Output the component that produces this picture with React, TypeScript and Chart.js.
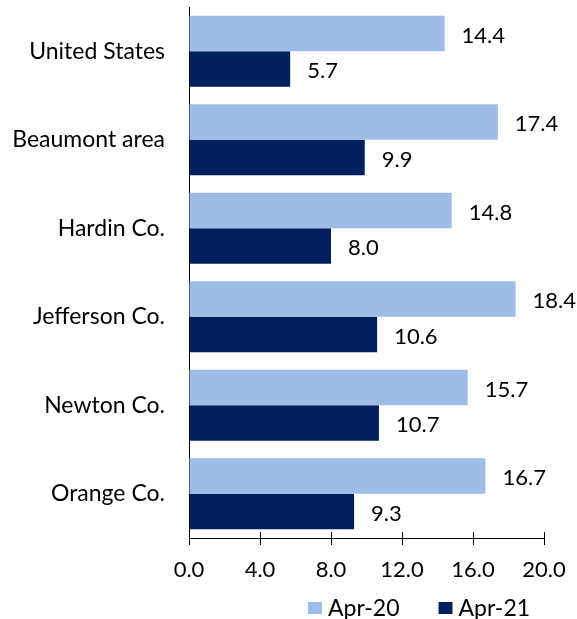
import React, { useEffect, useRef } from "react";
import { Chart, registerables } from "chart.js";

Chart.register(...registerables);

const categories = ["United States", "Beaumont area", "Hardin Co.", "Jefferson Co.", "Newton Co.", "Orange Co."];
const apr20 = [14.4, 17.4, 14.8, 18.4, 15.7, 16.7];
const apr21 = [5.7, 9.9, 8.0, 10.6, 10.7, 9.3];
const seriesNames = ["Apr-20", "Apr-21"];
const seriesColors = ["#9EBCE5", "#002060"];
const xMin = 0;
const xMax = 20;
const xStep = 4;

const FONT = "Lato, 'Noto Sans', sans-serif";
const FS_CAT = 23;
const FS_NUM = 22;
const FS_LEG = 23;

const labelsPlugin = {
  id: "valueLabelsAndLegend",
  afterDatasetsDraw(chart: any) {
    const ctx = chart.ctx;
    ctx.save();
    ctx.font = `${FS_NUM}px ${FONT}`;
    ctx.fillStyle = "#000";
    ctx.textBaseline = "middle";
    ctx.textAlign = "left";
    chart.data.datasets.forEach((ds: any, i: number) => {
      const meta = chart.getDatasetMeta(i);
      meta.data.forEach((el: any, j: number) => {
        ctx.fillText(Number(ds.data[j]).toFixed(1), el.x + 17, el.y + 2);
      });
    });
    // inner half of crossing tick marks
    const xs = chart.scales.x;
    const bottom = chart.chartArea.bottom;
    ctx.strokeStyle = "#000";
    ctx.lineWidth = 1;
    xs.ticks.forEach((t: any) => {
      const px = Math.round(xs.getPixelForValue(t.value)) + 0.5;
      ctx.beginPath();
      ctx.moveTo(px, bottom - 6);
      ctx.lineTo(px, bottom);
      ctx.stroke();
    });
    // legend
    ctx.font = `${FS_LEG}px ${FONT}`;
    const legendY = 608;
    let lx = 308;
    chart.data.datasets.forEach((ds: any) => {
      ctx.fillStyle = ds.backgroundColor;
      ctx.fillRect(lx, legendY - 6, 14, 12);
      ctx.fillStyle = "#000";
      const tx = lx + 20;
      ctx.fillText(ds.label, tx, legendY + 1);
      lx = tx + ctx.measureText(ds.label).width + 39;
    });
    ctx.restore();
  },
};

export default function App() {
  const ref = useRef<HTMLCanvasElement>(null);
  useEffect(() => {
    if (!ref.current) return;
    const chart = new Chart(ref.current, {
      type: "bar",
      data: {
        labels: categories,
        datasets: [
          { label: seriesNames[0], data: apr20, backgroundColor: seriesColors[0] },
          { label: seriesNames[1], data: apr21, backgroundColor: seriesColors[1] },
        ],
      },
      options: {
        indexAxis: "y",
        animation: false,
        responsive: false,
        maintainAspectRatio: false,
        layout: { padding: { top: 7, right: 33, left: 0, bottom: 0 } },
        datasets: { bar: { categoryPercentage: 0.8, barPercentage: 1.0 } },
        plugins: {
          legend: { display: false },
          tooltip: { enabled: false },
        },
        scales: {
          x: {
            min: xMin,
            max: xMax,
            border: { display: true, color: "#000", width: 1 },
            grid: { drawOnChartArea: false, drawTicks: true, tickLength: 7, color: "#000" },
            ticks: {
              stepSize: xStep,
              padding: 12,
              color: "#000",
              font: { family: FONT, size: FS_NUM },
              callback: (v: any) => Number(v).toFixed(1),
            },
            afterFit: (s: any) => {
              s.height = 81;
              s.paddingLeft = 0;
              s.paddingRight = 0;
              s.paddingTop = 0;
              s.paddingBottom = 0;
            },
          },
          y: {
            border: { display: true, color: "#000", width: 1 },
            grid: { display: false, drawTicks: false },
            ticks: {
              padding: 24,
              color: "#000",
              font: { family: FONT, size: FS_CAT },
            },
            afterFit: (s: any) => {
              s.width = 189;
              s.paddingLeft = 0;
              s.paddingRight = 0;
              s.paddingTop = 0;
              s.paddingBottom = 0;
            },
          },
        },
      },
      plugins: [labelsPlugin],
    });
    return () => chart.destroy();
  }, []);
  return (
    <div style={{ position: "fixed", left: 0, top: 0, width: 577, height: 619, background: "#fff" }}>
      <canvas ref={ref} width={577} height={619} style={{ width: 577, height: 619 }} />
    </div>
  );
}
